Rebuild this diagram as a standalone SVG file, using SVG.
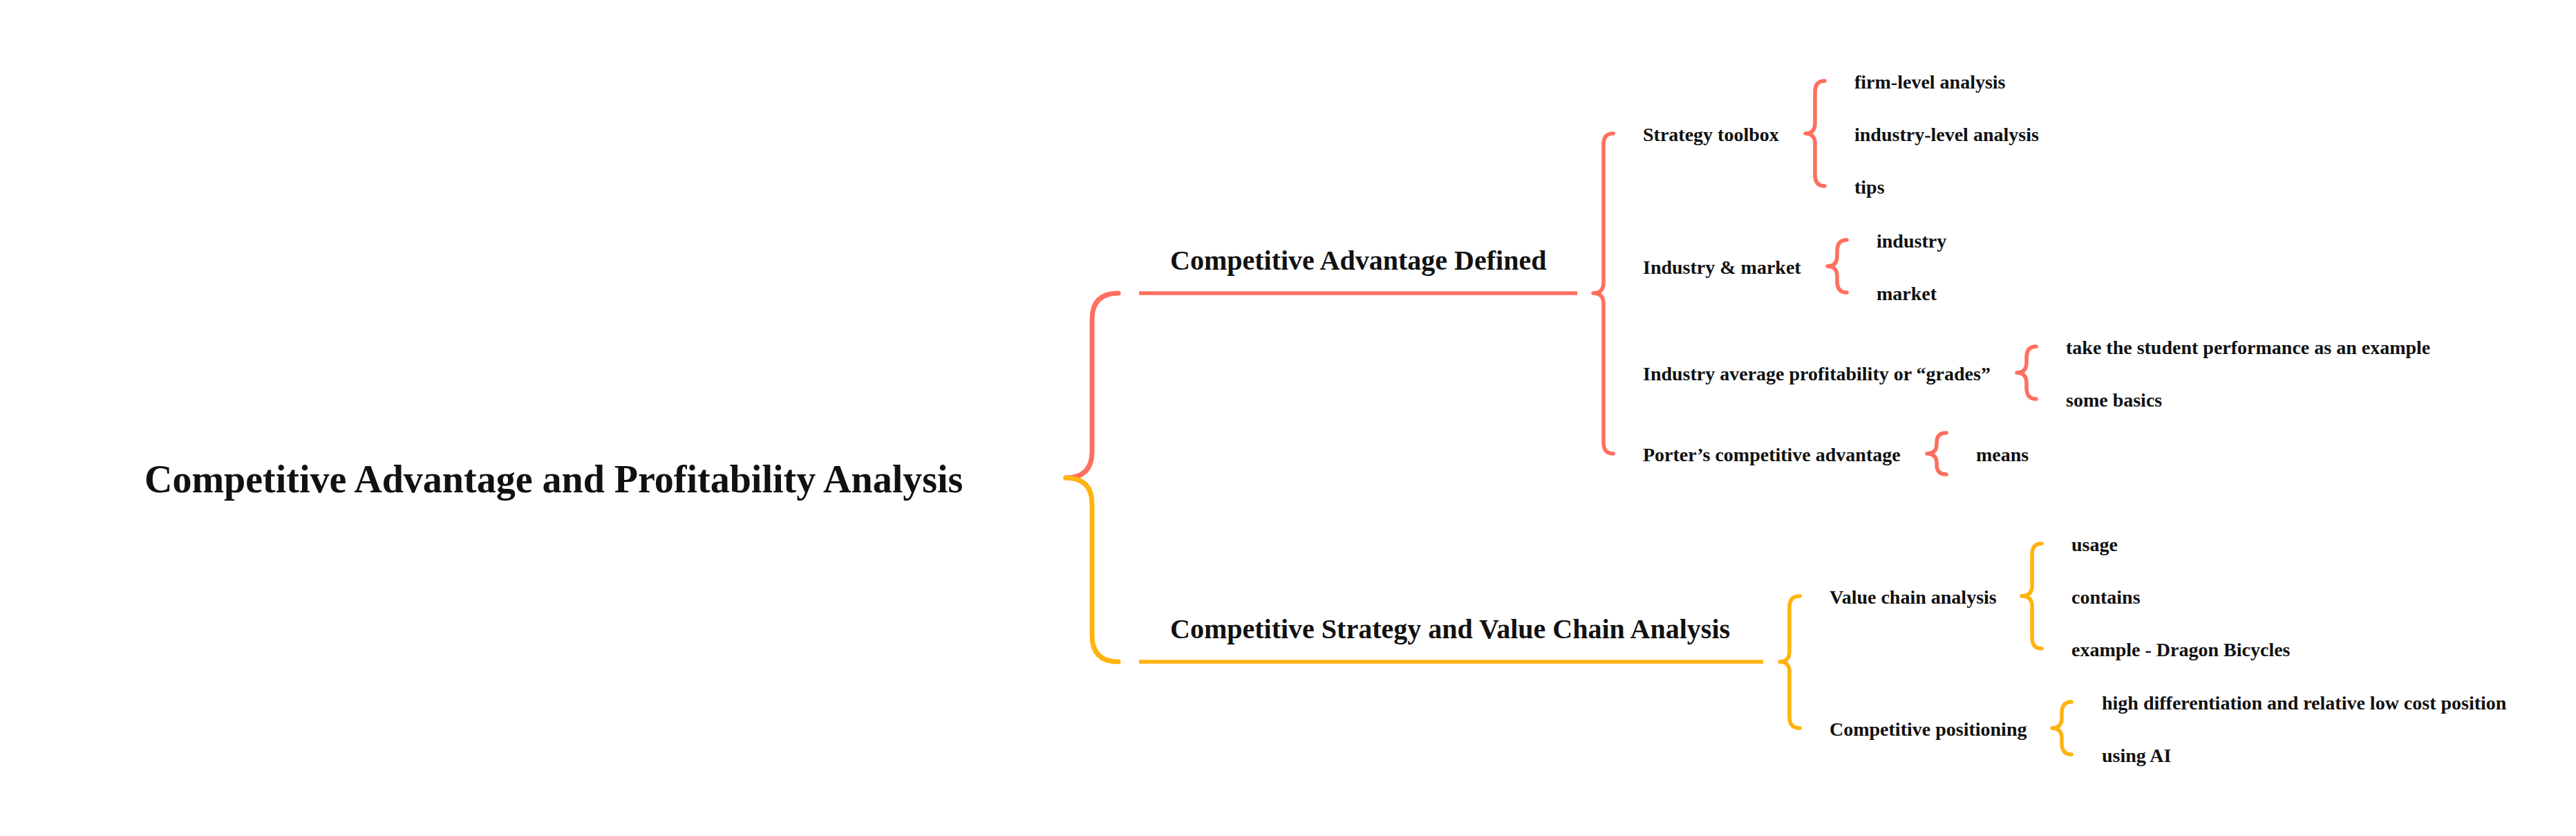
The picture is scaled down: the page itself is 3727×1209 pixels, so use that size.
<svg xmlns="http://www.w3.org/2000/svg" width="3727" height="1209" viewBox="0 0 3727 1209">
<style>
text { font-family: "Liberation Serif", "Times New Roman", serif; font-weight: bold; fill: #111111; }
.t0 { font-size: 56px; }
.t1 { font-size: 40px; }
.t2 { font-size: 28px; }
.br { fill: none; stroke-width: 5.5; stroke-linecap: round; stroke-linejoin: round; }
.root { fill: none; stroke-width: 7; stroke-linecap: round; }
.ln { stroke-width: 5.5; stroke-linecap: butt; }
.red { stroke: #FF6F5E; }
.yel { stroke: #FFB30F; }
</style>
<rect width="3727" height="1209" fill="#ffffff"/>
<g id="connectors">
  <path class="root red" d="M1618,424 Q1580,424 1580,462 L1580,653 Q1580,691 1542,691"/>
  <path class="root yel" d="M1542,691 Q1580,691 1580,729 L1580,919 Q1580,957 1618,957"/>
  <line class="ln red" x1="1648" y1="424" x2="2282" y2="424"/>
  <line class="ln yel" x1="1648" y1="957" x2="2551" y2="957"/>
  <path class="br red" d="M2334,193 Q2320,193 2320,209 L2320,409 Q2320,424 2305,424 Q2320,424 2320,439 L2320,640 Q2320,656 2334,656"/>
  <path class="br red" d="M2640,117 Q2626,117 2626,133 L2626,178 Q2626,193 2612,193 Q2626,193 2626,208 L2626,253 Q2626,269 2640,269"/>
  <path class="br red" d="M2672,347 Q2658,347 2658,363 L2658,370 Q2658,385 2644,385 Q2658,385 2658,400 L2658,407 Q2658,423 2672,423"/>
  <path class="br red" d="M2946,501 Q2932,501 2932,517 L2932,524 Q2932,539 2918,539 Q2932,539 2932,554 L2932,561 Q2932,577 2946,577"/>
  <path class="br red" d="M2816,626 Q2802,626 2802,640 L2802,642 Q2802,656 2788,656 Q2802,656 2802,670 L2802,672 Q2802,686 2816,686"/>
  <path class="br yel" d="M2604,862 Q2589,862 2589,878 L2589,942 Q2589,957 2575,957 Q2589,957 2589,972 L2589,1037 Q2589,1053 2604,1053"/>
  <path class="br yel" d="M2954,786 Q2940,786 2940,802 L2940,847 Q2940,862 2925,862 Q2940,862 2940,877 L2940,922 Q2940,938 2954,938"/>
  <path class="br yel" d="M2997,1015 Q2983,1015 2983,1031 L2983,1038 Q2983,1053 2969,1053 Q2983,1053 2983,1068 L2983,1075 Q2983,1091 2997,1091"/>
</g>
<g id="root"><text class="t0" x="209" y="712">Competitive Advantage and Profitability Analysis</text></g>
<g id="n-defined"><text class="t1" x="1693" y="390">Competitive Advantage Defined</text></g>
<g id="n-strategy"><text class="t1" x="1693" y="923">Competitive Strategy and Value Chain Analysis</text></g>
<g id="n-toolbox"><text class="t2" x="2377" y="204">Strategy toolbox</text></g>
<g id="n-firm"><text class="t2" x="2683" y="128">firm-level analysis</text></g>
<g id="n-industrylevel"><text class="t2" x="2683" y="204">industry-level analysis</text></g>
<g id="n-tips"><text class="t2" x="2683" y="280">tips</text></g>
<g id="n-indmarket"><text class="t2" x="2377" y="396">Industry &amp; market</text></g>
<g id="n-industry"><text class="t2" x="2715" y="358">industry</text></g>
<g id="n-market"><text class="t2" x="2715" y="434">market</text></g>
<g id="n-average"><text class="t2" x="2377" y="550">Industry average profitability or “grades”</text></g>
<g id="n-student"><text class="t2" x="2989" y="512">take the student performance as an example</text></g>
<g id="n-basics"><text class="t2" x="2989" y="588">some basics</text></g>
<g id="n-porter"><text class="t2" x="2377" y="667">Porter’s competitive advantage</text></g>
<g id="n-means"><text class="t2" x="2859" y="667">means</text></g>
<g id="n-valuechain"><text class="t2" x="2647" y="873">Value chain analysis</text></g>
<g id="n-usage"><text class="t2" x="2997" y="797">usage</text></g>
<g id="n-contains"><text class="t2" x="2997" y="873">contains</text></g>
<g id="n-dragon"><text class="t2" x="2997" y="949">example - Dragon Bicycles</text></g>
<g id="n-positioning"><text class="t2" x="2647" y="1064">Competitive positioning</text></g>
<g id="n-highdiff"><text class="t2" x="3041" y="1026">high differentiation and relative low cost position</text></g>
<g id="n-ai"><text class="t2" x="3041" y="1102">using AI</text></g>
</svg>
